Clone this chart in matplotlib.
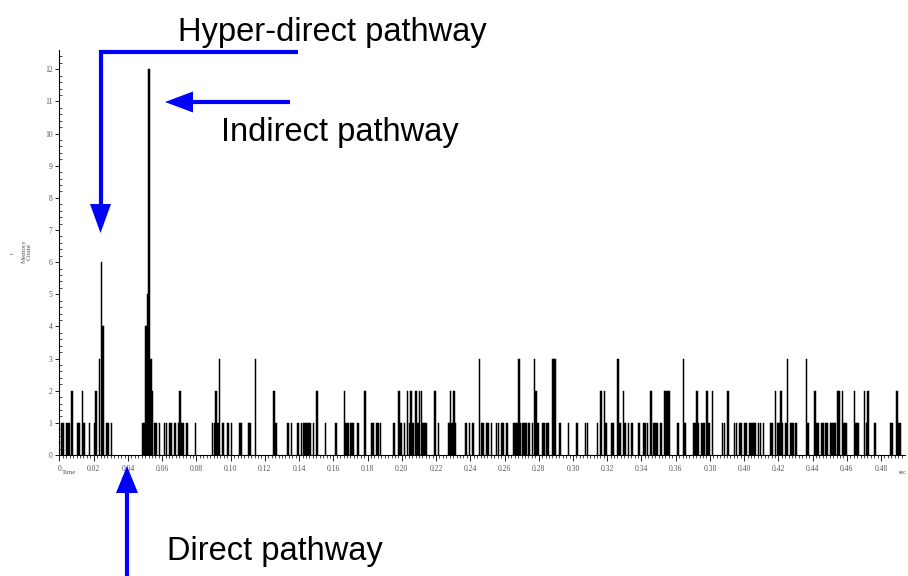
import numpy as np
import matplotlib.pyplot as plt
from matplotlib.lines import Line2D
from matplotlib.patches import Polygon

# spike histogram: bin start (ms) and count, only non-empty 1 ms bins
bin_ms = [1, 2, 4, 5, 7, 10, 11, 13, 14, 17, 20, 21, 23, 24, 25, 27, 28, 30,
          48, 49, 50, 51, 52, 53, 54, 55, 56, 58, 61, 62, 64, 65, 67, 69, 70, 71, 72, 74, 79,
          89, 90, 91, 92, 93, 95, 98, 100, 105, 106, 110, 111, 114, 125, 126, 133, 135,
          139, 141, 142, 143, 144, 145, 146, 148, 150, 155, 161,
          166, 167, 168, 170, 171, 174, 178, 182, 183, 185, 186, 187, 195, 198, 199, 201,
          203, 204, 205, 206, 208, 209, 210, 211, 212, 213, 214, 219, 221, 227, 228, 229,
          230, 231, 237, 239, 241, 245,
          246, 247, 249, 250, 252, 255, 256, 258, 259, 261, 265, 266, 267, 268, 269, 270,
          271, 272, 274, 276, 277, 278, 279, 282, 283, 284, 285, 288, 289, 292, 297, 302,
          307, 308, 314, 316, 318, 319, 322, 323, 326,
          327, 329, 330, 332, 334, 338, 341, 342, 343, 345, 347, 348, 349, 351, 353, 354,
          355, 356, 361, 364, 365, 370, 371, 372, 373, 375, 376, 378, 379, 381, 387, 388,
          390, 394, 395, 397, 398, 400, 401, 403, 404, 405, 406, 408, 409,
          411, 415, 416, 418, 419, 420, 421, 422, 424, 425, 427, 428, 430, 436, 437, 441,
          442, 443, 445, 446, 447, 448, 450, 451, 452, 453, 454, 455, 457, 458, 459, 464,
          465, 466, 470, 471, 472, 476, 485, 486, 489, 490, 491]
counts = [1, 1, 1, 1, 2, 1, 1, 2, 1, 1, 1, 2, 3, 6, 4, 1, 1, 1,
          1, 1, 4, 5, 12, 3, 2, 1, 1, 1, 1, 1, 1, 1, 1, 1, 2, 1, 1, 1, 1,
          1, 1, 2, 1, 3, 1, 1, 1, 1, 1, 1, 1, 3, 2, 1, 1, 1,
          1, 1, 1, 1, 1, 1, 1, 1, 2, 1, 1,
          2, 1, 1, 1, 1, 1, 2, 1, 1, 1, 1, 1, 1, 2, 1, 1,
          2, 1, 2, 1, 2, 1, 2, 2, 1, 1, 1, 2, 1, 1, 2, 1,
          2, 1, 1, 1, 1, 3,
          1, 1, 1, 1, 1, 1, 1, 1, 1, 1, 1, 1, 1, 3, 1, 1,
          1, 1, 1, 1, 3, 2, 1, 1, 1, 1, 1, 3, 3, 1, 1, 1,
          1, 1, 1, 2, 2, 1, 1, 1, 3,
          1, 2, 1, 1, 1, 1, 1, 1, 1, 2, 1, 1, 1, 1, 2, 2,
          2, 2, 1, 3, 1, 1, 1, 2, 1, 1, 1, 2, 1, 2, 1, 1,
          2, 1, 1, 1, 1, 1, 1, 1, 1, 1, 1, 1, 1,
          1, 1, 1, 2, 1, 1, 2, 1, 1, 3, 1, 1, 1, 3, 1, 2,
          1, 1, 1, 1, 1, 1, 1, 1, 1, 1, 2, 2, 2, 1, 1, 2,
          1, 1, 2, 1, 2, 1, 1, 1, 2, 1, 1]

x_ticks = np.round(np.arange(0, 0.49, 0.02), 2)
x_tick_labels = ['0'] + ['%.2f' % v for v in x_ticks[1:]]
y_ticks = list(range(0, 13))

W, H = 908, 576


def fp(x, y):
    # image pixel (from top-left) -> figure fraction
    return x / W, 1 - y / H


fig = plt.figure(figsize=(W / 100, H / 100), dpi=100)
ax = fig.add_axes([59.5 / W, 1 - 455 / H, 845.5 / W, 405 / H])

ax.bar(np.array(bin_ms) / 1000, counts, width=0.0009, align='edge',
       color='black', edgecolor='black', linewidth=0.35)

ax.set_xlim(0, 0.494)
ax.set_ylim(0, 12.6)
ax.spines['top'].set_visible(False)
ax.spines['right'].set_visible(False)
ax.spines['left'].set_linewidth(0.8)
ax.spines['bottom'].set_linewidth(0.8)

ax.set_xticks(x_ticks)
ax.set_xticklabels(x_tick_labels)
ax.set_xticks(np.arange(0, 0.494, 0.002), minor=True)
ax.set_yticks(y_ticks)
ax.set_yticks(np.arange(0, 12.6, 0.2), minor=True)

for lab in ax.get_xticklabels() + ax.get_yticklabels():
    lab.set_family('Liberation Serif')
    lab.set_fontsize(5.5)
    lab.set_color('#555555')
ax.tick_params(axis='x', which='major', direction='out', length=4, width=0.6, pad=3)
ax.tick_params(axis='x', which='minor', direction='out', length=2, width=0.5)
ax.tick_params(axis='y', which='major', direction='out', length=3, width=0.6, pad=2)
ax.tick_params(axis='y', which='minor', direction='in', length=2, width=0.5)

fig.text(*fp(62, 473), 'Time', fontsize=5, family='Liberation Serif',
         color='#555555', va='center', ha='left')
fig.text(*fp(903, 473), 'sec', fontsize=4.5, family='Liberation Serif',
         color='#555555', va='center', ha='center')
fig.text(*fp(27, 251), 'Memory\nCount', fontsize=5, family='Liberation Serif',
         color='#555555', rotation=90, va='center', ha='center', linespacing=1.0)
fig.text(*fp(12, 253), 'r', fontsize=4, family='Liberation Serif',
         color='#555555', rotation=90, va='center', ha='center')

# blue annotation arrows
blue = '#0000ff'
arrows = [
    ([(298, 52), (100.5, 52), (100.5, 208)], [(90, 204), (111, 204), (100.5, 233)]),
    ([(290, 102), (190, 102)], [(193, 91.5), (193, 112.5), (165, 102)]),
    ([(127, 580), (127, 490)], [(116, 493), (138, 493), (127, 466)]),
]
for line_pts, head_pts in arrows:
    xs, ys = zip(*[fp(x, y) for x, y in line_pts])
    fig.add_artist(Line2D(xs, ys, transform=fig.transFigure, color=blue,
                          lw=3, solid_capstyle='butt', solid_joinstyle='miter'))
    fig.add_artist(Polygon([fp(x, y) for x, y in head_pts], closed=True,
                           transform=fig.transFigure, color=blue, lw=0))

label_font = dict(fontsize=23.5, family='Liberation Sans', color='black',
                  ha='center', va='baseline')
fig.text(*fp(332, 41), 'Hyper-direct pathway', **label_font)
fig.text(*fp(340, 141), 'Indirect pathway', **label_font)
fig.text(*fp(275, 560), 'Direct pathway', **label_font)

fig.savefig('out.png', dpi=100)
